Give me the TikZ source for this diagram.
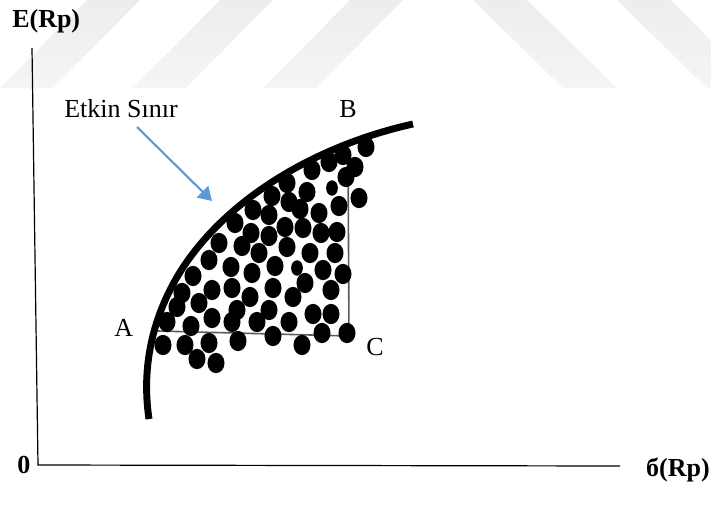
\documentclass[tikz,border=0pt]{standalone}
\usepackage{fontspec}
\setmainfont{Liberation Serif}
\usetikzlibrary{arrows.meta}
\definecolor{arrowblue}{HTML}{5B9BD5}
\definecolor{boxline}{HTML}{5A5A5A}
\begin{document}
\begin{tikzpicture}[x=0.75pt,y=-0.75pt,
  lbl/.style={inner sep=0pt, font=\fontsize{19.5}{22}\selectfont},
  blbl/.style={inner sep=0pt, font=\fontsize{19.5}{22}\selectfont\bfseries},
  band/.style={top color=black!7, bottom color=black!4},
  axis/.style={line width=0.9pt, black},
  boxln/.style={line width=1.2pt, boxline},
  frontier/.style={line width=5.2pt, black},
  pointer/.style={arrowblue, line width=1.6pt, -{Triangle[length=10pt,width=12pt]}}]
\useasboundingbox (0,0) rectangle (711,519);
% watermark bands
\shade[band] (87,0) -- (140,0) -- (53,88) -- (0,88) -- cycle;
\shade[band] (220,0) -- (273,0) -- (186,88) -- (133,88) -- cycle;
\shade[band] (350,0) -- (403,0) -- (316,88) -- (263,88) -- cycle;
\shade[band] (473,0) -- (527,0) -- (617,88) -- (563,88) -- cycle;
\shade[band] (617,0) -- (671,0) -- (711,41) -- (711,88) -- (707,88) -- cycle;
% axes
\coordinate (ytop) at (32,48);
\coordinate (origin) at (38,465);
\coordinate (xend) at (620,466);
\draw[axis] (ytop) -- (origin) -- (xend);
% labels
\node[blbl, anchor=base west] (ylab) at (12,27) {E(Rp)};
\node[blbl, anchor=base east] (xlab) at (710,476) {б(Rp)};
\node[blbl, anchor=base] (zero) at (24,473) {0};
\node[lbl, anchor=base west] (etkin) at (64,117) {Etkin Sınır};
\node[lbl, anchor=base] (B) at (348,117) {B};
\node[lbl, anchor=base west] (A) at (114,336) {A};
\node[lbl, anchor=base west] (C) at (366,355) {C};
% box lines
\coordinate (pA) at (158,331);
\coordinate (pC) at (349,336);
\coordinate (pB) at (348,150);
\draw[boxln] (pA) -- (pC) -- (pB);
% dots
\foreach \x/\y in {366/147,343/155,355/167,329/162,312/170,346/177,359/198,287/183,307/192,272/196,
  289/202,300/209,319/213,339/206,253/210,269/215,285/227,303/228,321/233,337/232,235/223,251/233,
  269/236,219/243,242/246,259/253,287/247,310/253,335/253,209/260,231/267,252/273,275/266,323/270,
  343/274,193/276,212/290,232/288,250/297,273/288,305/283,293/297,331/290,182/293,199/303,177/307,
  212/318,237/310,232/322,257/322,269/310,289/322,313/314,331/314,167/322,191/326,322/333,347/333,
  273/336,238/341,302/345,163/345,185/345,209/343,197/359,216/363}
  \fill (\x,\y) ellipse [x radius=6.4pt, y radius=7.6pt];
\foreach \x/\y in {332/188,297/268}
  \fill (\x,\y) ellipse [x radius=4.4pt, y radius=5.8pt];
% frontier curve
\coordinate (fstart) at (149,419);
\coordinate (fmid) at (170,290);
\coordinate (fend) at (413,124);
\draw[frontier] (fstart) .. controls (144,385) and (145,340) .. (fmid)
  .. controls (210,210) and (305,148) .. (fend);
% arrow
\coordinate (as) at (137,127);
\coordinate (ae) at (212,201);
\draw[pointer] (as) -- (ae);
\end{tikzpicture}
\end{document}
